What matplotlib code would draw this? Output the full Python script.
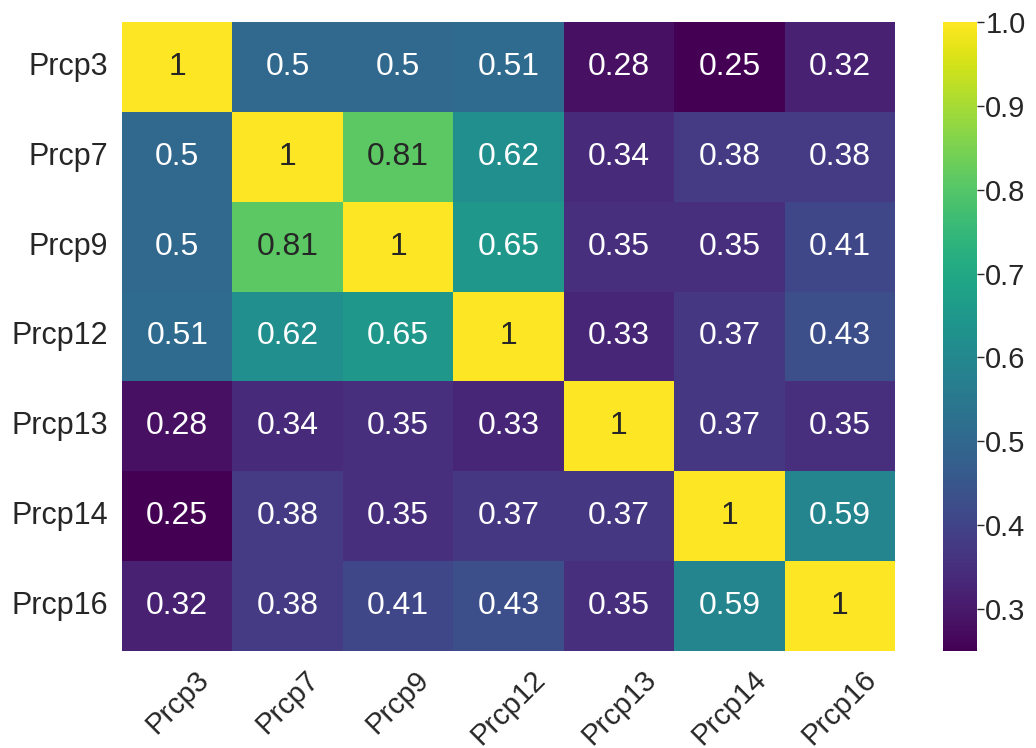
import matplotlib
matplotlib.use("Agg")
import matplotlib.pyplot as plt
import numpy as np
import pandas as pd
import seaborn as sns

labels = ["Prcp3", "Prcp7", "Prcp9", "Prcp12", "Prcp13", "Prcp14", "Prcp16"]
r_prcp3 = [1, 0.5, 0.5, 0.51, 0.28, 0.25, 0.32]
r_prcp7 = [0.5, 1, 0.81, 0.62, 0.34, 0.38, 0.38]
r_prcp9 = [0.5, 0.81, 1, 0.65, 0.35, 0.35, 0.41]
r_prcp12 = [0.51, 0.62, 0.65, 1, 0.33, 0.37, 0.43]
r_prcp13 = [0.28, 0.34, 0.35, 0.33, 1, 0.37, 0.35]
r_prcp14 = [0.25, 0.38, 0.35, 0.37, 0.37, 1, 0.59]
r_prcp16 = [0.32, 0.38, 0.41, 0.43, 0.35, 0.59, 1]

df = pd.DataFrame([r_prcp3, r_prcp7, r_prcp9, r_prcp12, r_prcp13, r_prcp14, r_prcp16],
                  index=labels, columns=labels)

sns.set_theme(style="white")
plt.rcParams['font.family'] = ['Liberation Sans', 'DejaVu Sans']
plt.rcParams['text.color'] = '#262626'
plt.rcParams['xtick.color'] = '#262626'
plt.rcParams['ytick.color'] = '#262626'

fig = plt.figure(figsize=(10.36, 7.48), dpi=100)
ax = fig.add_axes([0.1178, 0.1297, 0.7461, 0.8409])
cax = fig.add_axes([0.9102, 0.1297, 0.0328, 0.8409])

sns.heatmap(df, ax=ax, cbar_ax=cax, cmap="viridis", annot=True,
            annot_kws={"fontsize": 23})
ax.tick_params(axis='y', labelsize=22, length=0, pad=10)
ax.tick_params(axis='x', labelsize=21, length=0, pad=10)
ax.set_xticklabels(labels, rotation=45)
ax.set_yticklabels(labels, rotation=0)
for t in ax.get_xticklabels():
    t.set_ha('center')
cax.tick_params(labelsize=21, length=5, width=1, color='#262626', pad=1)
cax.yaxis.set_ticks_position('right')

fig.savefig("out.png", dpi=100)
